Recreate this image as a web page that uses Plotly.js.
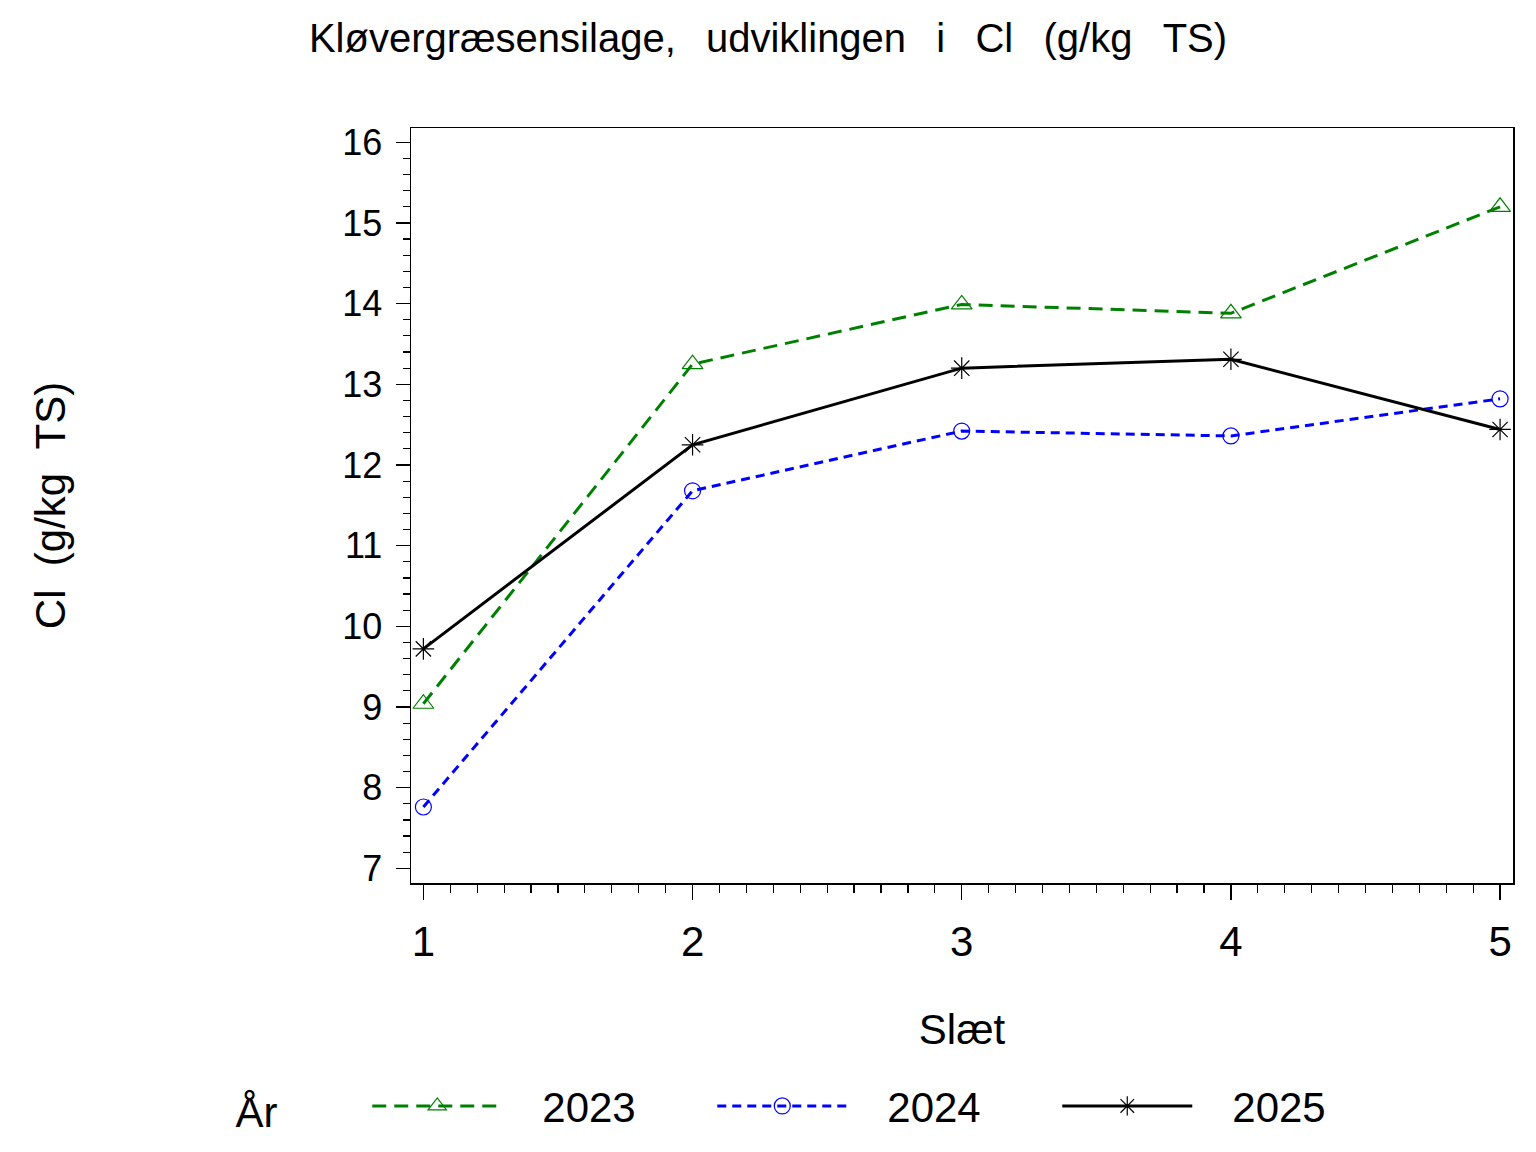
<!DOCTYPE html>
<html>
<head>
<meta charset="utf-8">
<script src="https://cdn.plot.ly/plotly-3.0.1.min.js"></script>
<style>html,body{margin:0;padding:0;background:#fff;}#chart{width:1536px;height:1152px;}</style>
</head>
<body>
<div id="chart"></div>
<script>
const slaet = [1, 2, 3, 4, 5];
const y2023 = [9.04, 13.25, 13.99, 13.88, 15.20];
const y2024 = [7.76, 11.68, 12.42, 12.36, 12.82];
const y2025 = [9.72, 12.25, 13.20, 13.31, 12.44];
const seriesNames = ['2023', '2024', '2025'];
const xTickLabels = ['1', '2', '3', '4', '5'];

const FONT = '"Liberation Sans", Arial, Helvetica, sans-serif';
const SP = '\u00a0\u00a0\u2009';
const SPY = ' \u00a0';
const LPAD = '\u00a0\u00a0\u00a0';

const traces = [
  {x: slaet, y: y2023, name: LPAD + seriesNames[0], type: 'scatter', mode: 'lines+markers',
   line: {color: '#008000', width: 3, dash: '14px,8px'},
   marker: {symbol: 'triangle-up-open', size: 18, color: '#008000', line: {width: 1.2, color: '#008000'}}},
  {x: slaet, y: y2024, name: LPAD + seriesNames[1], type: 'scatter', mode: 'lines+markers',
   line: {color: '#0000FF', width: 3, dash: '9px,6px'},
   marker: {symbol: 'circle-open', size: 16, color: '#0000FF', line: {width: 1.2, color: '#0000FF'}}},
  {x: slaet, y: y2025, name: LPAD + seriesNames[2], type: 'scatter', mode: 'lines+markers',
   line: {color: '#000000', width: 3},
   marker: {symbol: 'asterisk-open', size: 18, color: '#000000', line: {width: 1.2, color: '#000000'}}}
];

const layout = {
  width: 1536, height: 1152,
  paper_bgcolor: '#fff', plot_bgcolor: '#fff',
  margin: {l: 411, r: 23, t: 128, b: 266},
  font: {family: FONT, color: '#000'},
  title: {text: ['Kløvergræsensilage,', 'udviklingen', 'i', 'Cl', '(g/kg', 'TS)'].join(SP),
          font: {size: 40, family: FONT, color: '#000'}, x: 0.5, xanchor: 'center', y: 0.967, yanchor: 'middle'},
  xaxis: {
    range: [0.954, 5.048], tickvals: slaet, ticktext: xTickLabels,
    showline: true, linecolor: '#000', linewidth: 1.5, mirror: true,
    ticks: 'outside', ticklen: 15, tickwidth: 1.5, tickcolor: '#000',
    minor: {dtick: 0.1, ticks: 'outside', ticklen: 8, tickwidth: 1.2, tickcolor: '#000'},
    showgrid: false, zeroline: false,
    tickfont: {size: 42, family: FONT, color: '#000'}, ticklabelstandoff: 6,
    title: {text: 'Slæt', font: {size: 42, family: FONT, color: '#000'}, standoff: 50}
  },
  yaxis: {
    range: [6.818, 16.177], dtick: 1, tick0: 7,
    showline: true, linecolor: '#000', linewidth: 1.5, mirror: true,
    ticks: 'outside', ticklen: 14, tickwidth: 1.5, tickcolor: '#000',
    minor: {dtick: 0.2, ticks: 'outside', ticklen: 7, tickwidth: 1.2, tickcolor: '#000'},
    showgrid: false, zeroline: false,
    tickfont: {size: 36, family: FONT, color: '#000'}, ticklabelstandoff: 6,
    title: {text: ['Cl', '(g/kg', 'TS)'].join(SPY), font: {size: 42, family: FONT, color: '#000'}, standoff: 263}
  },
  showlegend: true,
  legend: {
    orientation: 'h', x: -0.161, xanchor: 'left', y: -0.2955, yanchor: 'middle',
    title: {text: 'År' + '\u00a0'.repeat(7), side: 'left', font: {size: 42, family: FONT, color: '#000'}},
    font: {size: 42, family: FONT, color: '#000'},
    itemwidth: 130, entrywidth: 200, entrywidthmode: 'pixels',
    bgcolor: 'rgba(0,0,0,0)', borderwidth: 0
  }
};

Plotly.newPlot('chart', traces, layout, {displayModeBar: false, staticPlot: true});
</script>
</body>
</html>
